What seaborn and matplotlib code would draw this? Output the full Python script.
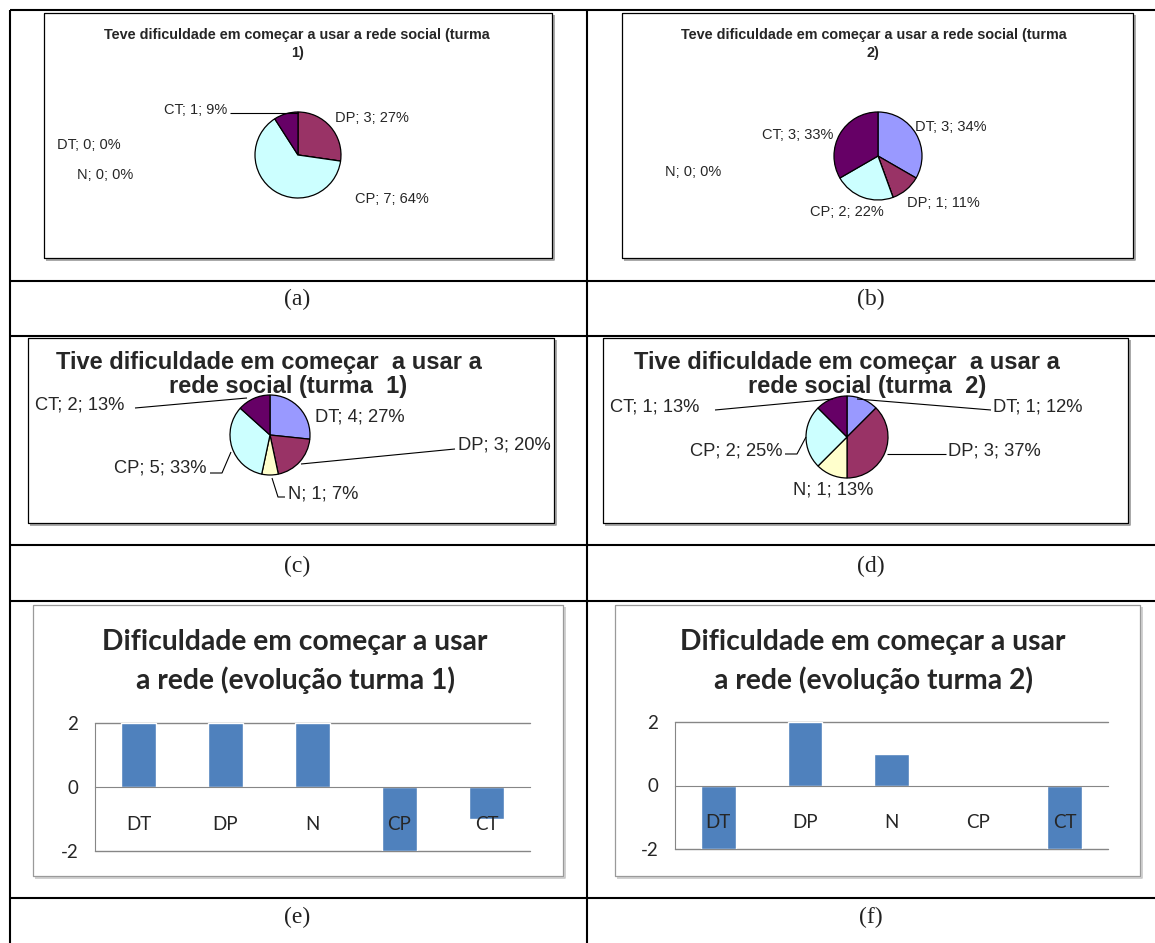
import numpy as np
import matplotlib
matplotlib.use("Agg")
import matplotlib.pyplot as plt
import seaborn as sns

# dados das respostas (DT, DP, N, CP, CT)
cats = ['DT', 'DP', 'N', 'CP', 'CT']
pie_colors = ['#9999FF', '#993366', '#FFFFCC', '#CCFFFF', '#660066']

teve_t1 = [0, 3, 0, 7, 1]
teve_t1_pct = [0, 27, 0, 64, 9]
teve_t2 = [3, 1, 0, 2, 3]
teve_t2_pct = [34, 11, 0, 22, 33]
tive_t1 = [4, 3, 1, 5, 2]
tive_t1_pct = [27, 20, 7, 33, 13]
tive_t2 = [1, 3, 1, 2, 1]
tive_t2_pct = [12, 37, 13, 25, 13]

evol_t1 = [2, 2, 2, -2, -1]
evol_t2 = [-2, 2, 1, 0, -2]

W, H = 1155, 943
sns.set_style('white')
plt.rcParams['font.family'] = ['Liberation Sans', 'DejaVu Sans']

fig = plt.figure(figsize=(W / 100, H / 100), dpi=100)
canvas = fig.add_axes([0, 0, 1, 1])
canvas.set_xlim(0, W)
canvas.set_ylim(0, H)
canvas.axis('off')


def Y(y):
    return H - y


def line(pts, **kw):
    xs = [p[0] for p in pts]
    ys = [Y(p[1]) for p in pts]
    kw.setdefault('color', 'black')
    kw.setdefault('lw', 0.8)
    canvas.plot(xs, ys, solid_capstyle='butt', **kw)


def box(x0, y0, x1, y1, color='black', shadow='#9a9a9a'):
    line([(x0 + 2, y1 + 1.5), (x1 + 1.5, y1 + 1.5), (x1 + 1.5, y0 + 2)], color=shadow, lw=1.2)
    line([(x0, y0), (x1, y0), (x1, y1), (x0, y1), (x0, y0)], color=color, lw=0.9)


# grade da tabela
tl = 1.5
line([(10, 10), (W, 10)], lw=tl)
line([(10, 10), (10, H)], lw=tl)
line([(587, 10), (587, H)], lw=tl)
for yy in [281, 336, 545, 601, 898]:
    line([(10, yy), (W, yy)], lw=tl)

# legendas (a)..(f)
for lab, x, y in [('(a)', 297, 299), ('(b)', 871, 299), ('(c)', 297, 566),
                  ('(d)', 871, 566), ('(e)', 297, 917), ('(f)', 871, 917)]:
    canvas.text(x, Y(y), lab, ha='center', va='center', fontsize=17,
                family=['Liberation Serif', 'DejaVu Serif'], color='#222222')

# caixas dos graficos
box(44, 13, 552, 258)
box(622, 13, 1133, 258)
box(28, 338, 554, 523)
box(603, 338, 1128, 523)
box(33, 605, 563, 876, color='#9a9a9a', shadow='#c8c8c8')
box(615, 605, 1140, 876, color='#9a9a9a', shadow='#c8c8c8')


def pie(vals, center, r):
    canvas.pie(vals, colors=pie_colors, startangle=90, counterclock=False,
               center=(center[0], Y(center[1])), radius=r, frame=True,
               wedgeprops=dict(edgecolor='black', linewidth=0.9))


def labels(vals, pcts, places, fs):
    for c, v, p, (x, y, ha) in zip(cats, vals, pcts, places):
        canvas.text(x, Y(y), f'{c}; {v}; {p}%', ha=ha, va='center', fontsize=fs)


ts_small = 10.4
ts_big = 17

# (a)
pie(teve_t1, (298, 155), 43)
labels(teve_t1, teve_t1_pct,
       [(57, 145, 'left'), (335, 118, 'left'), (77, 175, 'left'),
        (355, 199, 'left'), (227, 110, 'right')], 10.5)
line([(230, 113), (298, 113)])
canvas.text(297, Y(35), 'Teve dificuldade em começar a usar a rede social (turma',
            ha='center', va='center', fontsize=ts_small, weight='bold')
canvas.text(298, Y(53), '1)', ha='center', va='center', fontsize=ts_small, weight='bold')

# (b)
pie(teve_t2, (878, 156), 44)
labels(teve_t2, teve_t2_pct,
       [(915, 127, 'left'), (907, 203, 'left'), (665, 172, 'left'),
        (810, 212, 'left'), (833, 135, 'right')], 10.5)
canvas.text(874, Y(35), 'Teve dificuldade em começar a usar a rede social (turma',
            ha='center', va='center', fontsize=ts_small, weight='bold')
canvas.text(873, Y(53), '2)', ha='center', va='center', fontsize=ts_small, weight='bold')

# (c)
pie(tive_t1, (270, 435), 40)
labels(tive_t1, tive_t1_pct,
       [(315, 417, 'left'), (458, 445, 'left'), (288, 494, 'left'),
        (207, 468, 'right'), (35, 405, 'left')], 13.2)
line([(135, 408), (247, 398)])
line([(455, 449), (301, 464)])
line([(210, 473), (222, 473), (231, 452)])
line([(285, 497), (278, 497), (272, 478)])
canvas.text(269, Y(362), 'Tive dificuldade em começar  a usar a',
            ha='center', va='center', fontsize=ts_big, weight='bold')
canvas.text(288, Y(386), 'rede social (turma  1)',
            ha='center', va='center', fontsize=ts_big, weight='bold')

# (d)
pie(tive_t2, (847, 437), 41)
labels(tive_t2, tive_t2_pct,
       [(993, 407, 'left'), (948, 451, 'left'), (833, 490, 'center'),
        (782, 451, 'right'), (610, 407, 'left')], 13.2)
line([(715, 410), (833, 399)])
line([(991, 410), (857, 399)])
line([(887, 454), (946, 454)])
line([(785, 454), (797, 454), (806, 437)])
canvas.text(847, Y(362), 'Tive dificuldade em começar  a usar a',
            ha='center', va='center', fontsize=ts_big, weight='bold')
canvas.text(867, Y(386), 'rede social (turma  2)',
            ha='center', va='center', fontsize=ts_big, weight='bold')

canvas.set_xlim(0, W)
canvas.set_ylim(0, H)
canvas.set_aspect('auto')
canvas.axis('off')

# graficos de barras (e) e (f)
grid = '#868686'
bar_font = ['Lato', 'DejaVu Sans']


def bars(vals, left, right, top, bottom, title_x, title):
    ax = fig.add_axes([left / W, 1 - bottom / H, (right - left) / W, (bottom - top) / H])
    sns.barplot(x=cats, y=vals, order=cats, color='#4F81BD', saturation=1,
                width=0.4, ax=ax, zorder=2)
    ax.set_xlim(-0.5, 4.5)
    ax.set_ylim(-2, 2)
    for s in ['top', 'right']:
        ax.spines[s].set_visible(False)
    ax.spines['left'].set_color(grid)
    ax.spines['bottom'].set_color(grid)
    ax.spines['bottom'].set_position(('data', 0))
    for yv in [2, -2]:
        ax.axhline(yv, color=grid, lw=1, clip_on=False, zorder=1)
    ax.set_xticks(np.arange(0.5, 5, 1))
    ax.set_xticklabels([])
    ax.tick_params(axis='x', length=6, color=grid, direction='out')
    ax.set_yticks([-2, 0, 2])
    ax.set_yticklabels(['-2', '0', '2'], family=bar_font, fontsize=13.5)
    ax.tick_params(axis='y', length=6, color=grid, direction='out', pad=6)
    ax.set_xlabel('')
    ax.set_ylabel('')
    ax.patch.set_alpha(0)
    for i, c in enumerate(cats):
        ax.text(i, -1.18, c, ha='center', va='center', fontsize=13.5,
                family=bar_font, zorder=5)
    canvas.text(title_x, Y(642), title[0], ha='center', va='center',
                fontsize=20.3, weight='bold', family=bar_font)
    canvas.text(title_x, Y(680), title[1], ha='center', va='center',
                fontsize=20.3, weight='bold', family=bar_font)
    return ax


bars(evol_t1, 95, 530, 723, 851, 295,
     ['Dificuldade em começar a usar', 'a rede (evolução turma 1)'])
bars(evol_t2, 675, 1108, 722, 849, 873,
     ['Dificuldade em começar a usar', 'a rede (evolução turma 2)'])

fig.savefig('out.png', dpi=100)
